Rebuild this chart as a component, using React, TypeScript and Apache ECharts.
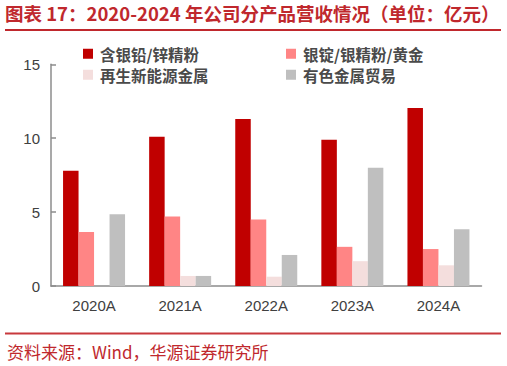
import React, { useEffect, useRef } from "react";
import * as echarts from "echarts";

const categories = ["2020A", "2021A", "2022A", "2023A", "2024A"];
const seriesNames = ["含银铅/锌精粉", "银锭/银精粉/黄金", "再生新能源金属", "有色金属贸易"];
const leadZinc = [7.8, 10.1, 11.3, 9.9, 12.05];
const silverGold = [3.65, 4.7, 4.5, 2.65, 2.5];
const renewable = [0, 0.68, 0.63, 1.68, 1.4];
const trading = [4.85, 0.68, 2.1, 8.0, 3.84];
const seriesValues = [leadZinc, silverGold, renewable, trading];
const colors = ["#C00000", "#FF8585", "#F4DEDD", "#BFBFBF"];
const yTicks = [0, 5, 10, 15];

const titleText = "图表 17：2020-2024 年公司分产品营收情况（单位：亿元）";
const footerText = "资料来源：Wind，华源证券研究所";

export default function App() {
  const ref = useRef<HTMLDivElement>(null);
  useEffect(() => {
    if (!ref.current) return;
    const chart = echarts.init(ref.current, undefined, { renderer: "svg" });
    const legendPos = [
      { left: 83, top: 46 },
      { left: 286, top: 46 },
      { left: 83, top: 67 },
      { left: 286, top: 67 },
    ];
    chart.setOption({
      animation: false,
      backgroundColor: "#ffffff",
      title: {
        text: titleText,
        left: 5,
        top: 4,
        padding: 0,
        textStyle: {
          fontFamily: "Noto Sans CJK SC",
          fontSize: 18.5,
          fontWeight: "bold",
          color: "#C0282D",
        },
      },
      legend: seriesNames.map((n, i) => ({
        data: [n],
        left: legendPos[i].left,
        top: legendPos[i].top,
        padding: 0,
        itemWidth: 10,
        itemHeight: 10,
        icon: "rect",
        textStyle: {
          fontFamily: "Noto Sans CJK SC",
          fontSize: 15.5,
          fontWeight: "bold",
          color: "#4a4a4a",
          padding: [0, 0, 0, 2],
        },
      })),
      grid: { left: 51, right: 25.5, top: 64.3, bottom: 80, containLabel: false },
      xAxis: {
        type: "category",
        data: categories,
        axisLine: { lineStyle: { color: "#8c8c8c", width: 1.5 } },
        axisTick: { inside: true, length: 5, lineStyle: { color: "#8c8c8c", width: 1.5 } },
        axisLabel: {
          fontFamily: "Liberation Sans",
          fontSize: 15,
          color: "#404040",
          margin: 12,
        },
      },
      yAxis: {
        type: "value",
        min: yTicks[0],
        max: yTicks[yTicks.length - 1],
        interval: 5,
        splitLine: { show: false },
        axisLine: { show: true, lineStyle: { color: "#8c8c8c", width: 1.5 } },
        axisTick: { show: true, inside: true, length: 5, lineStyle: { color: "#8c8c8c", width: 1.5 } },
        axisLabel: {
          fontFamily: "Liberation Sans",
          fontSize: 15,
          color: "#404040",
          margin: 11,
        },
      },
      series: seriesNames.map((n, i) => ({
        name: n,
        type: "bar",
        data: seriesValues[i],
        barWidth: 15.5,
        barGap: "0%",
        itemStyle: { color: colors[i] },
      })),
      graphic: [
        {
          type: "line",
          shape: { x1: 5, y1: 30, x2: 501, y2: 30 },
          style: { stroke: "#C0282D", lineWidth: 2 },
        },
        {
          type: "line",
          shape: { x1: 5, y1: 333.5, x2: 501, y2: 333.5 },
          style: { stroke: "#C8383C", lineWidth: 2 },
        },
        {
          type: "text",
          left: 7,
          top: 343,
          style: {
            text: footerText,
            fontFamily: "Noto Sans CJK SC",
            fontSize: 17,
            fill: "#C0282D",
          },
        },
      ],
    });
    return () => chart.dispose();
  }, []);
  return (
    <div
      ref={ref}
      style={{ position: "fixed", left: 0, top: 0, width: 507, height: 366 }}
    />
  );
}
